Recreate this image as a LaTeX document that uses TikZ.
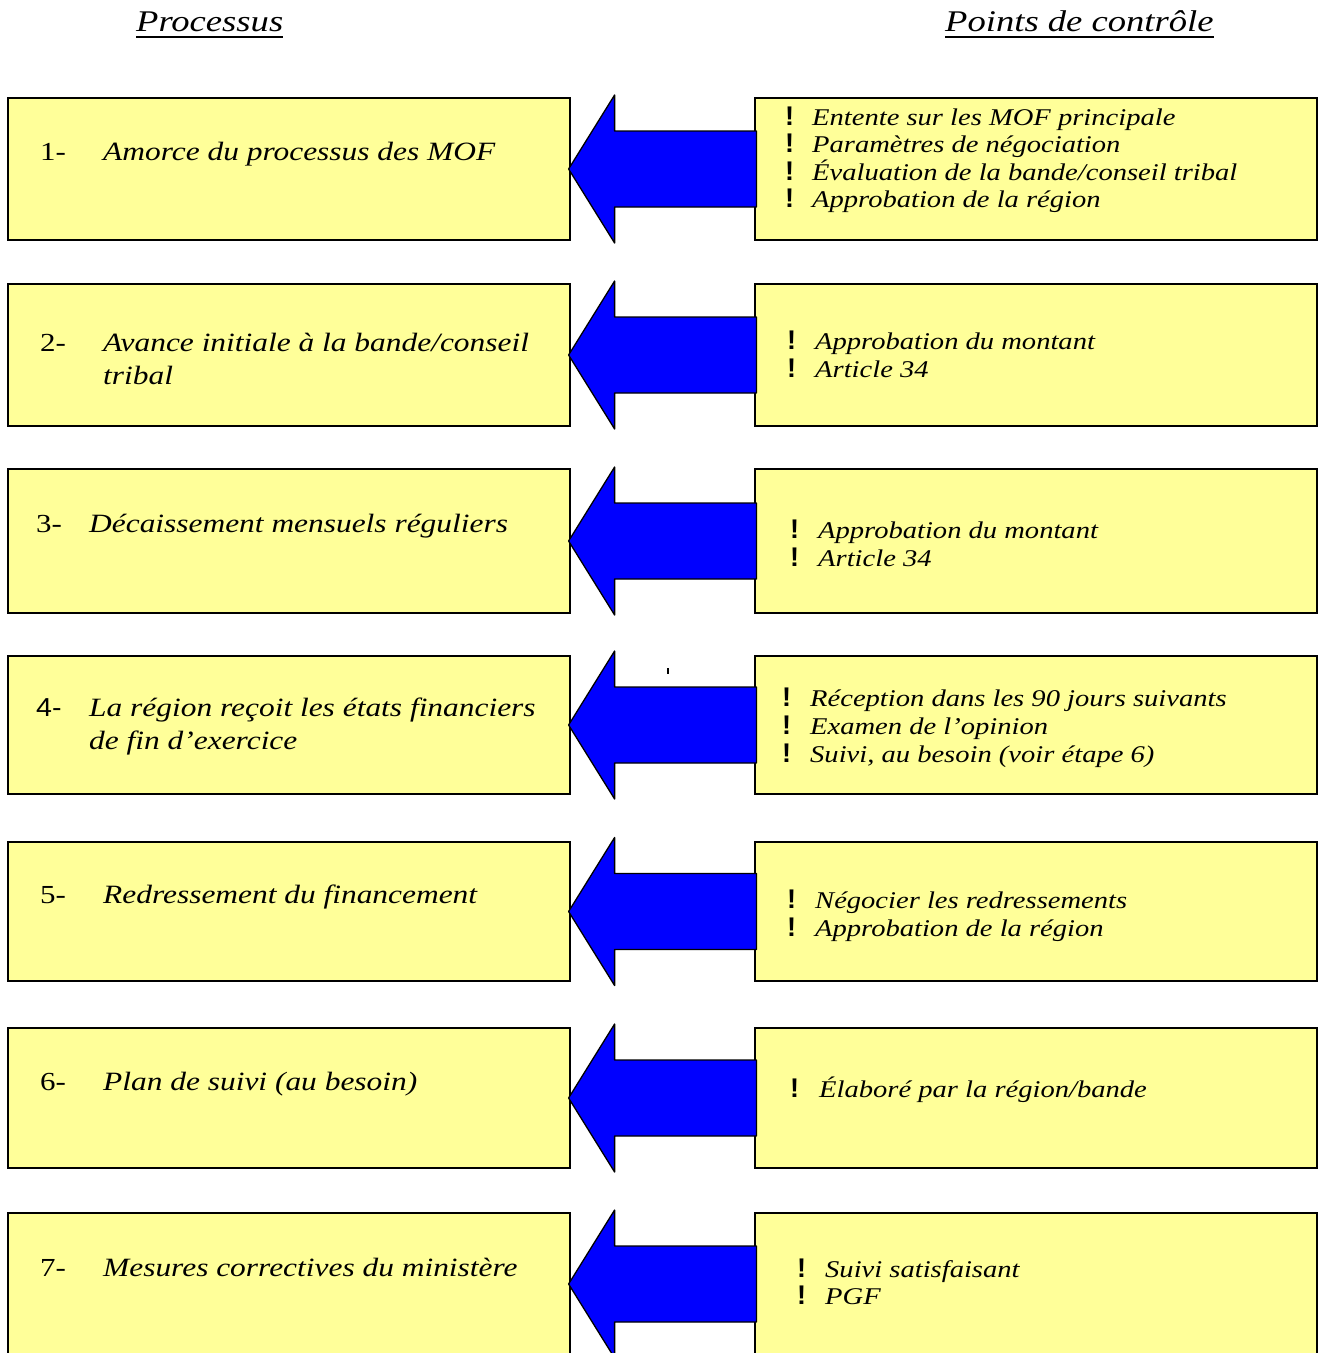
\documentclass[tikz,border=0pt]{standalone}
\usepackage{fontspec}
\setmainfont[FakeStretch=1.19]{Liberation Serif}
\newfontfamily\titlefont[FakeStretch=1.22]{Liberation Serif}
\newfontfamily\bangfont{Liberation Sans}
\newfontfamily\sansnum[FakeStretch=1.1]{Liberation Sans}
\usetikzlibrary{calc}
\definecolor{boxyellow}{HTML}{FFFF99}
\definecolor{arrowblue}{HTML}{0000FF}
\begin{document}
\begin{tikzpicture}[x=1pt,y=-1pt,
  box/.style={draw=black, line width=1.2pt, fill=boxyellow, inner sep=0, minimum width=562pt},
  arr/.style={draw=black, line width=1.3pt, fill=arrowblue, line join=round},
  title/.style={anchor=base west, inner sep=0, font=\fontsize{30}{36}\titlefont\itshape},
  uline/.style={line width=1.8pt},
  num/.style={anchor=base west, inner sep=0, font=\fontsize{26}{32}\selectfont},
  ltxt/.style={anchor=base west, inner sep=0, font=\fontsize{26.4}{32}\selectfont\itshape},
  bang/.style={anchor=base west, inner sep=0, font=\fontsize{27}{30}\bangfont\bfseries},
  rtxt/.style={anchor=base west, inner sep=0, font=\fontsize{24}{28}\selectfont\itshape}
]
\useasboundingbox (0,0) rectangle (1327,1353);
\fill[white] (0,0) rectangle (1327,1353);

% titles
\node[title] (t1) at (136,31) {Processus};
\node[title] (t2) at (945,31) {Points de contrôle};
\draw[uline] ($(t1.base west)+(0,6)$) -- ($(t1.base east)+(0,6)$);
\draw[uline] ($(t2.base west)+(0,6)$) -- ($(t2.base east)+(0,6)$);

% boxes: index/top/bottom
\foreach \i/\t/\b in {1/98/240,2/284/426,3/469/613,4/656/794,5/842/981,6/1028/1168,7/1213/1355}{
  \node[box, minimum height={(\b-\t)*1pt}] (L\i) at (289,{(\t+\b)/2}) {};
  \node[box, minimum height={(\b-\t)*1pt}] (R\i) at (1036,{(\t+\b)/2}) {};
}
% arrows from control points to process
\foreach \i in {1,...,7}{
  \draw[arr] ($(L\i.east)+(-2,0)$) -- ($(L\i.east)+(44,-74)$) -- ($(L\i.east)+(44,-38)$)
    -- ($(R\i.west)+(2,-38)$) -- ($(R\i.west)+(2,38)$) -- ($(L\i.east)+(44,38)$)
    -- ($(L\i.east)+(44,74)$) -- cycle;
}
\fill[black] (667,668) rectangle (669,674);

% left texts
\node[num] (n1) at (40,160) {1-};
\node[ltxt] (p1) at (103,160) {Amorce du processus des MOF};
\node[num] (n2) at (40,351) {2-};
\node[ltxt] (p2a) at (103,351) {Avance initiale à la bande/conseil};
\node[ltxt] (p2b) at (103,384) {tribal};
\node[num] (n3) at (36,532) {3-};
\node[ltxt] (p3) at (89,532) {Décaissement mensuels réguliers};
\node[num, font=\fontsize{26}{32}\sansnum] (n4) at (36,716) {4-};
\node[ltxt] (p4a) at (89,716) {La région reçoit les états financiers};
\node[ltxt] (p4b) at (89,749) {de fin d’exercice};
\node[num] (n5) at (40,903) {5-};
\node[ltxt] (p5) at (103,903) {Redressement du financement};
\node[num] (n6) at (40,1090) {6-};
\node[ltxt] (p6) at (103,1090) {Plan de suivi (au besoin)};
\node[num] (n7) at (40,1276) {7-};
\node[ltxt] (p7) at (103,1276) {Mesures correctives du ministère};

% right texts
\newcommand{\rline}[5]{%
  \node[bang] (b#1) at (#2,#4) {!};
  \node[rtxt] (c#1) at (#3,#4) {#5};}
\rline{11}{785}{812}{125}{Entente sur les MOF principale}
\rline{12}{785}{812}{152}{Paramètres de négociation}
\rline{13}{785}{812}{180}{Évaluation de la bande/conseil tribal}
\rline{14}{785}{812}{207}{Approbation de la région}
\rline{21}{787}{815}{349}{Approbation du montant}
\rline{22}{787}{815}{377}{Article 34}
\rline{31}{790}{818}{538}{Approbation du montant}
\rline{32}{790}{818}{566}{Article 34}
\rline{41}{782}{810}{706}{Réception dans les 90 jours suivants}
\rline{42}{782}{810}{734}{Examen de l’opinion}
\rline{43}{782}{810}{762}{Suivi, au besoin (voir étape 6)}
\rline{51}{787}{815}{908}{Négocier les redressements}
\rline{52}{787}{815}{936}{Approbation de la région}
\rline{61}{790}{819}{1097}{Élaboré par la région/bande}
\rline{71}{797}{825}{1277}{Suivi satisfaisant}
\rline{72}{797}{825}{1304}{PGF}
\end{tikzpicture}
\end{document}
